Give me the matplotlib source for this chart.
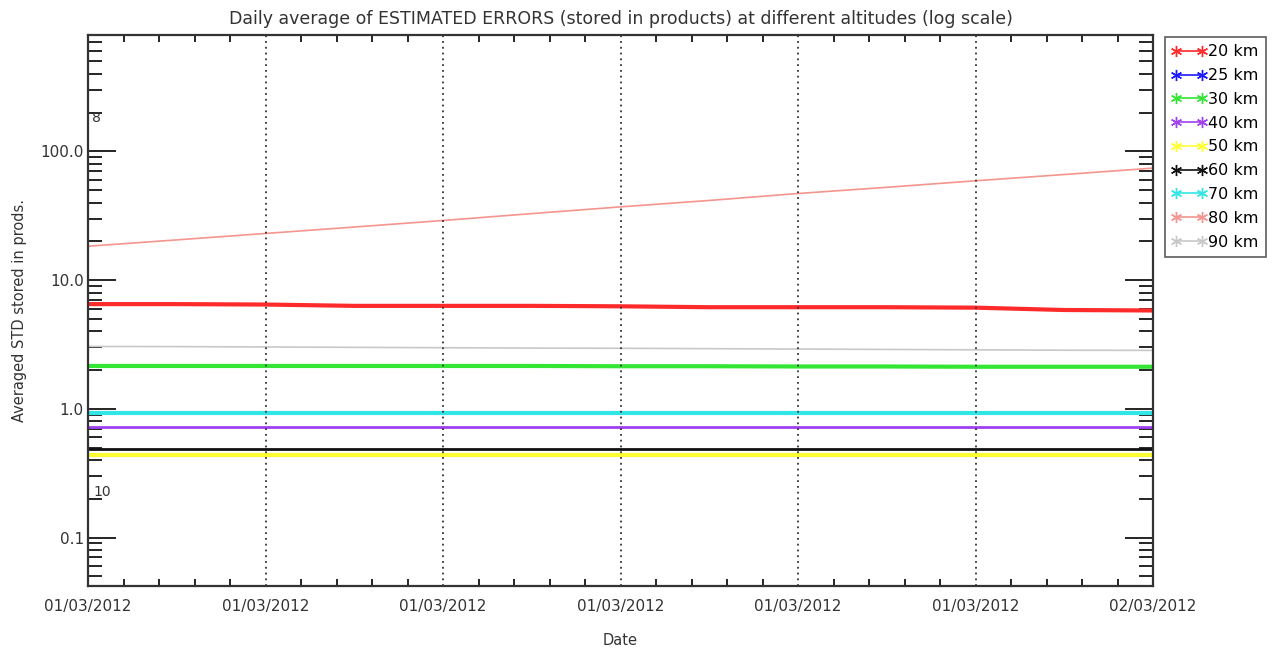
import matplotlib
matplotlib.use("Agg")
import matplotlib.pyplot as plt
from matplotlib.lines import Line2D
from matplotlib.ticker import FixedLocator, LogLocator, NullFormatter, FuncFormatter
import numpy as np

# hours since 01/03/2012 00:00
hours = [0, 2, 4, 6, 8, 10, 12, 14, 16, 18, 20, 22, 24]

alt_labels = ["20 km", "25 km", "30 km", "40 km", "50 km", "60 km", "70 km", "80 km", "90 km"]
alt_colors = ["#ff2a2a", "#1a1aff", "#33e633", "#a040f0", "#ffff33", "#111111", "#33e6e6", "#f5958f", "#c8c8c8"]

err_20 = [6.5, 6.5, 6.45, 6.3, 6.3, 6.3, 6.25, 6.15, 6.15, 6.15, 6.1, 5.85, 5.8]
err_25 = [np.nan] * 13  # in legend, no visible line
err_30 = [2.15, 2.15, 2.15, 2.15, 2.15, 2.15, 2.14, 2.14, 2.13, 2.13, 2.12, 2.12, 2.12]
err_40 = [0.72] * 13
err_50 = [0.44] * 13
err_60 = [0.49] * 13
err_70 = [0.92] * 13
err_80 = [18.3, 20.5, 23.0, 25.8, 29.0, 32.8, 37.0, 41.5, 47.0, 52.5, 59.0, 66.0, 74.0]
err_90 = [3.05, 3.04, 3.02, 3.0, 2.98, 2.96, 2.95, 2.93, 2.91, 2.89, 2.87, 2.85, 2.84]

series = [err_20, err_25, err_30, err_40, err_50, err_60, err_70, err_80, err_90]
widths = [3, 2, 3, 2, 3, 2, 3, 1.2, 1.2]

date_ticks = [0, 4, 8, 12, 16, 20, 24]
date_labels = ["01/03/2012"] * 6 + ["02/03/2012"]

fig = plt.figure(figsize=(12.72, 6.52), dpi=100)
ax = fig.add_axes([0.0692, 0.1012, 0.8373, 0.8451])

for vals, col, lw in zip(series, alt_colors, widths):
    ax.plot(hours, vals, color=col, lw=lw, solid_capstyle="butt")

ax.set_yscale("log")
ax.set_ylim(0.042, 800)
ax.set_xlim(0, 24)

# dotted verticals at every 4 hours (not at the ends)
for h in date_ticks[1:-1]:
    ax.axvline(h, color="#333333", ls=(0, (1, 2.2)), lw=1.3)

ax.xaxis.set_major_locator(FixedLocator(date_ticks))
ax.set_xticklabels(date_labels, fontsize=11, color="#333333")
ax.xaxis.set_minor_locator(FixedLocator([h for h in np.arange(0, 24.01, 0.8) if abs(h / 4 - round(h / 4)) > 0.01]))
ax.tick_params(axis="x", which="major", length=0, pad=9)
ax.tick_params(axis="x", which="minor", length=5, direction="in", top=True, bottom=True, width=1.2)

ax.yaxis.set_major_locator(LogLocator(base=10, numticks=10))
ax.yaxis.set_minor_locator(LogLocator(base=10, subs=np.arange(2, 10), numticks=10))
ax.yaxis.set_major_formatter(FuncFormatter(lambda v, p: "%.1f" % v))
ax.yaxis.set_minor_formatter(NullFormatter())
ax.tick_params(axis="y", which="major", length=20, direction="in", left=True, right=True, width=1.2,
               labelsize=11, labelcolor="#333333", pad=3)
ax.tick_params(axis="y", which="minor", length=10, direction="in", left=True, right=True, width=1.2)

for sp in ax.spines.values():
    sp.set_linewidth(1.6)
    sp.set_color("#333333")

# stray labels left by the original plotting tool
ax.text(0.004, 0.85, "8", transform=ax.transAxes, fontsize=10, color="#333333", va="center")
ax.text(0.005, 0.17, "10", transform=ax.transAxes, fontsize=10, color="#333333", va="center")

ax.set_title("Daily average of ESTIMATED ERRORS (stored in products) at different altitudes (log scale)",
             fontsize=12.5, color="#333333", pad=8)
ax.set_xlabel("Date", fontsize=10.5, color="#333333", labelpad=14)
ax.set_ylabel("Averaged STD stored in prods.", fontsize=10.5, color="#333333", labelpad=10)

handles = [Line2D([0], [0], color=c, lw=1.2, marker=(6, 2, 0), markersize=8) for c in alt_colors]
leg = fig.legend(handles, alt_labels, loc="upper left", bbox_to_anchor=(0.9155, 0.943),
                 frameon=True, fancybox=False, edgecolor="#333333", fontsize=11.5,
                 numpoints=2, handlelength=2.2, handletextpad=0.1, borderpad=0.45,
                 labelspacing=0.55, borderaxespad=0)
leg.get_frame().set_linewidth(1.2)

fig.savefig("out.png", dpi=100)
